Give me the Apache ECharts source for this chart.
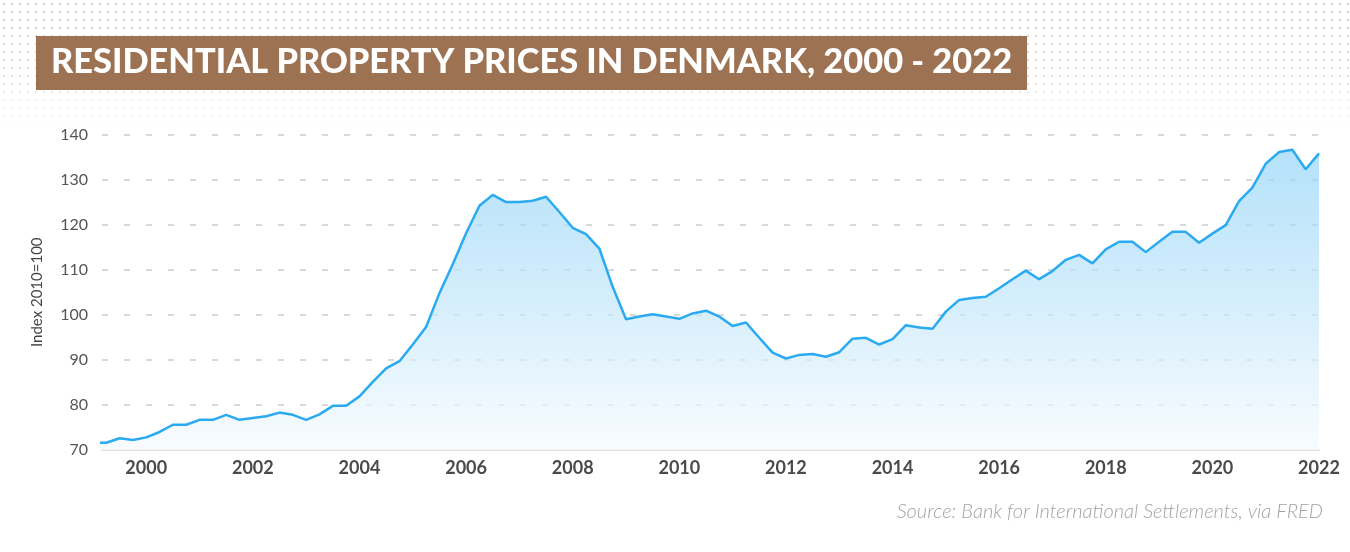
<!DOCTYPE html>
<html>
<head>
<meta charset="utf-8">
<script src="https://cdn.jsdelivr.net/npm/echarts@6.0.0/dist/echarts.min.js"></script>
<style>
  html, body { margin: 0; padding: 0; background: #ffffff; }
  #wrap { position: relative; width: 1350px; height: 552px; overflow: hidden; }
  #dots {
    position: absolute; left: 0; top: 0; width: 1350px; height: 140px;
    background-image: radial-gradient(circle, #d0d0d0 0.9px, rgba(255,255,255,0) 1.4px);
    background-size: 8px 8px;
    -webkit-mask-image: linear-gradient(to bottom, rgba(0,0,0,1) 0px, rgba(0,0,0,0.8) 60px, rgba(0,0,0,0) 135px);
    mask-image: linear-gradient(to bottom, rgba(0,0,0,1) 0px, rgba(0,0,0,0.8) 60px, rgba(0,0,0,0) 135px);
  }
  #chart { position: absolute; left: 0; top: 0; width: 1350px; height: 552px; }
</style>
</head>
<body>
<div id="wrap">
  <div id="dots"></div>
  <div id="chart"></div>
</div>
<script>
// ---- Data (quarterly, Index 2010=100) ----
const titleText = 'RESIDENTIAL PROPERTY PRICES IN DENMARK, 2000 - 2022';
const sourceText = 'Source: Bank for International Settlements, via FRED';
const yAxisName = 'Index 2010=100';

const firstQuarter = 1999.0;   // 1999 Q1
const quarterStep = 0.25;
const priceIndex = [
  71.6, 71.6, 72.6, 72.2,        // 1999
  72.8, 74.0, 75.6, 75.6,        // 2000
  76.7, 76.7, 77.8, 76.7,        // 2001
  77.1, 77.5, 78.3, 77.8,        // 2002
  76.7, 77.9, 79.8, 79.8,        // 2003
  81.9, 85.1, 88.1, 89.7,        // 2004
  93.4, 97.3, 104.8, 111.2,      // 2005
  118.1, 124.2, 126.6, 125.0,    // 2006
  125.0, 125.3, 126.2, 122.8,    // 2007
  119.3, 117.9, 114.7, 106.2,    // 2008
  99.0, 99.6, 100.1, 99.6,       // 2009
  99.1, 100.3, 100.9, 99.6,      // 2010
  97.5, 98.3, 94.9, 91.6,        // 2011
  90.3, 91.1, 91.3, 90.7,        // 2012
  91.7, 94.7, 94.9, 93.4,        // 2013
  94.6, 97.7, 97.2, 96.9,        // 2014
  100.7, 103.3, 103.7, 104.0,    // 2015
  105.9, 107.9, 109.8, 107.9,    // 2016
  109.7, 112.2, 113.3, 111.4,    // 2017
  114.5, 116.2, 116.2, 113.9,    // 2018
  116.2, 118.4, 118.4, 116.0,    // 2019
  118.0, 119.9, 125.2, 128.2,    // 2020
  133.5, 136.1, 136.6, 132.3,    // 2021
  135.8                          // 2022 Q1
];
const xTickYears = [2000, 2002, 2004, 2006, 2008, 2010, 2012, 2014, 2016, 2018, 2020, 2022];
const yTicks = [70, 80, 90, 100, 110, 120, 130, 140];

const seriesData = priceIndex.map((v, i) => [firstQuarter + i * quarterStep, v]);

const chart = echarts.init(document.getElementById('chart'), null, { renderer: 'canvas' });
chart.setOption({
  backgroundColor: 'transparent',
  animation: false,
  grid: { left: 102, right: 31, top: 134.5, bottom: 102, containLabel: false },
  xAxis: {
    type: 'value',
    min: 1999.17,
    max: 2022,
    axisLine: { show: true, lineStyle: { color: '#e2e2e2', width: 2 } },
    axisTick: { show: false },
    splitLine: { show: false },
    axisLabel: {
      customValues: xTickYears,
      formatter: v => String(Math.round(v)),
      color: '#4a4a4a',
      fontFamily: 'Lato',
      fontWeight: 'bold',
      fontSize: 18,
      margin: 9
    }
  },
  yAxis: {
    type: 'value',
    min: yTicks[0],
    max: yTicks[yTicks.length - 1],
    interval: 10,
    name: yAxisName,
    nameLocation: 'middle',
    nameRotate: 90,
    nameGap: 57,
    nameTextStyle: { color: '#444', fontFamily: 'Lato', fontSize: 15 },
    axisLine: { show: false },
    axisTick: { show: false },
    axisLabel: { color: '#555', fontFamily: 'Lato', fontSize: 16, margin: 14 },
    splitLine: { show: true, lineStyle: { color: '#cccccc', width: 1.6, type: [6, 16] } }
  },
  series: [{
    type: 'line',
    data: seriesData,
    showSymbol: false,
    symbol: 'none',
    clip: true,
    lineStyle: { color: '#2aaaf0', width: 2.5 },
    areaStyle: {
      color: new echarts.graphic.LinearGradient(0, 0, 0, 1, [
        { offset: 0, color: '#93d4f7' },
        { offset: 0.5, color: '#c2e6fa' },
        { offset: 1, color: '#f5fafe' }
      ])
    }
  }],
  graphic: [
    {
      type: 'rect',
      left: 36, top: 36,
      shape: { width: 991, height: 54 },
      style: { fill: '#9d7253' },
      z: 10
    },
    {
      type: 'text',
      left: 51, top: 45,
      style: {
        text: titleText,
        fill: '#ffffff',
        font: '900 34.4px Lato'
      },
      z: 11
    },
    {
      type: 'text',
      right: 27, top: 502,
      style: {
        text: sourceText,
        fill: '#a3a3a3',
        font: 'italic 300 20px Lato',
        textAlign: 'right'
      },
      z: 11
    }
  ]
});
</script>
</body>
</html>
